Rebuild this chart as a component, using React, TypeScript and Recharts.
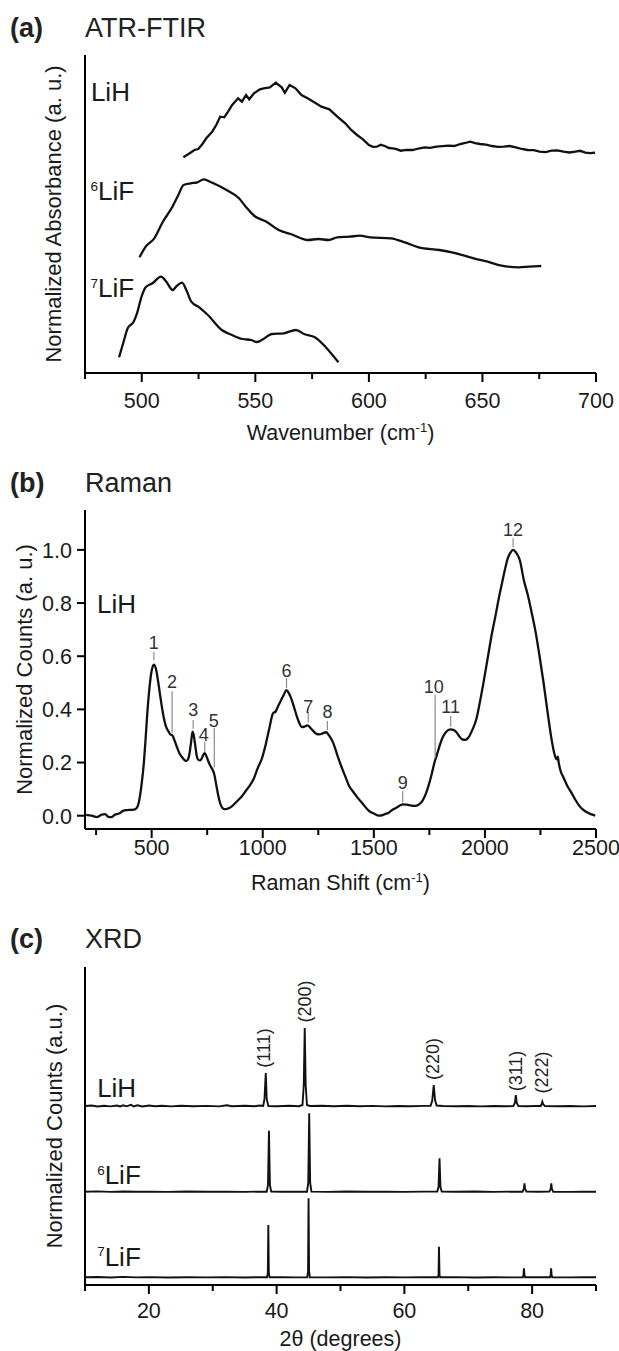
import React from 'react';
import { LineChart, Line, XAxis, YAxis, ReferenceLine, ReferenceDot, Label } from 'recharts';

const FONT = '"Liberation Sans", Arial, Helvetica, sans-serif';
const INK = '#1a1a1a';

// ---------- Panel (a) ATR-FTIR ----------
const ftirTicks = [475, 500, 525, 550, 575, 600, 625, 650, 675, 700];
const ftirLabeled = [500, 550, 600, 650, 700];
const ftirLiH: [number, number][] = [
  [518.3, 2.157], [520.6, 2.19], [523.2, 2.23], [524.9, 2.24], [526.7, 2.29], [528.4, 2.347], [531.0, 2.413],
  [532.8, 2.48], [534.5, 2.563], [536.3, 2.557], [538.0, 2.613], [539.8, 2.68], [542.4, 2.747], [544.1, 2.713],
  [545.9, 2.78], [547.3, 2.737], [549.4, 2.797], [552.0, 2.837], [553.7, 2.847], [556.4, 2.857], [559.0, 2.903],
  [561.6, 2.857], [563.0, 2.803], [565.1, 2.88], [567.7, 2.847], [570.3, 2.78], [573.0, 2.747], [575.6, 2.713],
  [579.1, 2.663], [582.6, 2.637], [586.1, 2.563], [589.6, 2.497], [592.2, 2.43], [594.8, 2.38], [597.4, 2.337],
  [600.0, 2.28], [601.8, 2.262], [603.5, 2.263], [605.2, 2.282], [607.0, 2.27], [608.8, 2.25], [610.5, 2.247],
  [612.2, 2.238], [614.0, 2.223], [616.5, 2.232], [619.3, 2.23], [621.8, 2.245], [624.5, 2.257], [627.0, 2.252],
  [629.7, 2.263], [632.4, 2.268], [635.0, 2.273], [637.6, 2.27], [640.2, 2.29], [642.4, 2.3], [644.6, 2.313],
  [646.8, 2.298], [648.9, 2.29], [651.6, 2.284], [654.2, 2.27], [656.8, 2.262], [659.4, 2.263], [662.0, 2.27],
  [664.7, 2.257], [667.3, 2.24], [669.9, 2.23], [672.6, 2.228], [675.2, 2.213], [677.8, 2.208], [680.4, 2.223],
  [683.0, 2.226], [685.7, 2.213], [688.3, 2.205], [690.9, 2.213], [693.0, 2.222], [695.3, 2.203], [697.5, 2.198],
  [699.6, 2.203],
];
const ftirLiF6: [number, number][] = [
  [499.0, 1.157], [501.7, 1.263], [505.5, 1.347], [509.3, 1.513], [513.1, 1.647], [516.1, 1.78], [518.4, 1.88],
  [521.5, 1.897], [524.5, 1.907], [527.3, 1.937], [530.6, 1.907], [536.7, 1.837], [542.8, 1.747], [545.8, 1.663],
  [549.6, 1.57], [554.9, 1.513], [560.3, 1.43], [565.6, 1.39], [573.2, 1.33], [577.7, 1.34], [582.3, 1.33],
  [586.1, 1.357], [591.4, 1.363], [596.0, 1.373], [600.6, 1.357], [609.7, 1.347], [615.8, 1.307], [621.9, 1.257],
  [631.0, 1.23], [637.1, 1.203], [646.2, 1.147], [652.3, 1.113], [658.4, 1.073], [666.0, 1.057], [670.5, 1.063],
  [675.9, 1.07],
];
const ftirLiF7: [number, number][] = [
  [490.0, 0.157], [491.8, 0.297], [493.8, 0.447], [496.4, 0.513], [497.9, 0.597], [499.9, 0.763], [501.7, 0.857],
  [504.7, 0.897], [508.5, 0.963], [510.8, 0.913], [513.6, 0.83], [515.4, 0.87], [517.7, 0.903], [519.6, 0.83],
  [521.8, 0.713], [525.3, 0.657], [529.1, 0.58], [535.2, 0.43], [539.7, 0.38], [544.3, 0.34], [548.1, 0.33],
  [550.7, 0.31], [553.4, 0.337], [557.2, 0.39], [562.5, 0.397], [567.9, 0.43], [571.7, 0.387], [576.2, 0.357],
  [580.8, 0.263], [584.6, 0.163], [586.6, 0.107],
];
const ftirSampleIso = ['', '6', '7'];
const ftirSampleName = ['LiH', 'LiF', 'LiF'];
const ftirSampleX = [477.6, 477.4, 477.4];
const ftirSampleY = [2.81, 1.82, 0.853];

// ---------- Panel (b) Raman ----------
const ramanTicksX = [250, 500, 750, 1000, 1250, 1500, 1750, 2000, 2250, 2500];
const ramanLabeledX = [500, 1000, 1500, 2000, 2500];
const ramanTicksY = [0, 0.2, 0.4, 0.6, 0.8, 1.0];
const ramanLiH: [number, number][] = [
  [205, 0.003], [230, 0.0], [255, -0.005], [275, 0.004], [291, 0.006], [305, -0.004], [318, -0.005], [335, 0.004],
  [353, 0.008], [371, 0.018], [390, 0.021], [407, 0.022], [425, 0.024], [434, 0.03], [442, 0.05], [455, 0.12],
  [465, 0.2], [472, 0.28], [480, 0.38], [490, 0.48], [500, 0.545], [510, 0.568], [520, 0.55], [530, 0.5],
  [541, 0.437], [552, 0.38], [564, 0.337], [575, 0.318], [585, 0.305], [592, 0.303], [600, 0.29], [612, 0.262],
  [625, 0.235], [639, 0.218], [650, 0.208], [657, 0.206], [665, 0.215], [671, 0.237], [678, 0.28], [684, 0.316],
  [690, 0.3], [696, 0.265], [703, 0.225], [710, 0.21], [718, 0.208], [725, 0.215], [732, 0.228], [739, 0.235],
  [746, 0.225], [755, 0.205], [764, 0.188], [773, 0.175], [782, 0.155], [791, 0.115], [800, 0.075], [809, 0.045],
  [818, 0.03], [826, 0.025], [835, 0.025], [844, 0.027], [858, 0.033], [871, 0.043], [889, 0.058], [907, 0.074],
  [925, 0.095], [943, 0.115], [960, 0.14], [978, 0.18], [996, 0.215], [1014, 0.27], [1030, 0.33], [1046, 0.385],
  [1059, 0.393], [1068, 0.41], [1077, 0.425], [1092, 0.45], [1107, 0.472], [1118, 0.46], [1130, 0.437],
  [1142, 0.405], [1153, 0.375], [1165, 0.348], [1175, 0.333], [1188, 0.335], [1202, 0.34], [1215, 0.33],
  [1228, 0.318], [1242, 0.308], [1255, 0.306], [1270, 0.31], [1285, 0.314], [1300, 0.3], [1318, 0.272],
  [1335, 0.23], [1353, 0.187], [1371, 0.149], [1389, 0.112], [1407, 0.09], [1425, 0.07], [1450, 0.045],
  [1478, 0.018], [1500, 0.008], [1523, 0.0], [1540, 0.002], [1550, 0.006], [1565, 0.01], [1577, 0.018],
  [1590, 0.025], [1603, 0.031], [1617, 0.038], [1630, 0.043], [1648, 0.042], [1666, 0.039], [1680, 0.037],
  [1693, 0.038], [1707, 0.045], [1720, 0.058], [1733, 0.08], [1746, 0.112], [1760, 0.155], [1773, 0.2],
  [1782, 0.224], [1795, 0.26], [1809, 0.293], [1825, 0.315], [1845, 0.325], [1858, 0.323], [1871, 0.315],
  [1885, 0.298], [1898, 0.287], [1912, 0.285], [1925, 0.293], [1943, 0.322], [1961, 0.362], [1978, 0.43],
  [1996, 0.512], [2014, 0.6], [2032, 0.687], [2050, 0.762], [2063, 0.82], [2077, 0.875], [2090, 0.925],
  [2103, 0.969], [2115, 0.99], [2127, 1.0], [2140, 0.99], [2157, 0.962], [2175, 0.887], [2193, 0.83],
  [2211, 0.762], [2229, 0.687], [2246, 0.6], [2264, 0.5], [2282, 0.39], [2300, 0.287], [2312, 0.235],
  [2320, 0.215], [2325, 0.212], [2328, 0.222], [2332, 0.2], [2340, 0.17], [2353, 0.145], [2371, 0.112],
  [2389, 0.087], [2407, 0.06], [2425, 0.037], [2443, 0.022], [2461, 0.012], [2480, 0.005], [2496, 0.0],
];
const ramanPeakNum = ['1', '2', '3', '4', '5', '6', '7', '8', '9', '10', '11', '12'];
const ramanPeakX = [510, 592, 687, 739, 782, 1107, 1205, 1291, 1630, 1776, 1846, 2127];
const ramanPeakLo = [0.585, 0.312, 0.327, 0.24, 0.181, 0.48, 0.35, 0.322, 0.05, 0.218, 0.335, 1.01];
const ramanPeakHi = [0.617, 0.468, 0.36, 0.277, 0.331, 0.518, 0.39, 0.356, 0.093, 0.456, 0.375, 1.044];
const ramanLabelX = [510, 592, 687, 734, 779, 1107, 1205, 1291, 1630, 1770, 1846, 2127];
const ramanLabelY = [0.65, 0.505, 0.4, 0.306, 0.356, 0.546, 0.412, 0.39, 0.125, 0.485, 0.41, 1.075];

// ---------- Panel (c) XRD ----------
const xrdTicks = [10, 20, 30, 40, 50, 60, 70, 80, 90];
const xrdLabeled = [20, 40, 60, 80];
const xrdLiH: [number, number][] = [
  [10, 1.79], [11, 1.795], [12, 1.785], [13, 1.792], [14, 1.786], [15, 1.795], [15.5, 1.785], [16, 1.797],
  [16.5, 1.787], [17.2, 1.802], [17.6, 1.786], [18.2, 1.797], [19, 1.785], [20, 1.795], [21, 1.787], [22, 1.793],
  [23.5, 1.786], [25, 1.792], [27, 1.787], [29, 1.791], [31, 1.786], [32.2, 1.797], [33, 1.787], [35, 1.792],
  [36.5, 1.787], [37.4, 1.795], [37.9, 1.79], [38.1, 1.86], [38.3, 2.12], [38.45, 1.86], [38.7, 1.79],
  [40, 1.788], [42, 1.792], [43.5, 1.788], [44.05, 1.8], [44.25, 2.0], [44.4, 2.57], [44.55, 2.0], [44.75, 1.8],
  [45.2, 1.79], [47, 1.792], [49, 1.787], [51, 1.792], [53, 1.787], [55, 1.791], [57, 1.786], [59, 1.79],
  [61, 1.787], [63, 1.791], [64.1, 1.792], [64.35, 1.84], [64.6, 2.0], [64.8, 1.85], [65.05, 1.795], [66, 1.79],
  [68, 1.787], [70, 1.79], [72, 1.786], [74, 1.79], [76, 1.787], [77.05, 1.79], [77.3, 1.82], [77.45, 1.9],
  [77.6, 1.82], [77.85, 1.79], [79, 1.788], [80.5, 1.79], [81.35, 1.79], [81.5, 1.81], [81.6, 1.833],
  [81.75, 1.805], [82.0, 1.79], [84, 1.787], [86, 1.79], [88, 1.786], [90, 1.79],
];
const xrdLiF6: [number, number][] = [
  [10, 0.933], [12, 0.936], [14, 0.931], [16, 0.935], [18, 0.932], [20, 0.934], [23, 0.931], [26, 0.935],
  [29, 0.932], [32, 0.934], [35, 0.931], [37, 0.934], [38.45, 0.933], [38.65, 1.0], [38.8, 1.543], [38.95, 1.0],
  [39.15, 0.934], [41, 0.932], [43, 0.934], [44.75, 0.933], [44.95, 1.02], [45.1, 1.717], [45.25, 1.02],
  [45.45, 0.934], [48, 0.931], [51, 0.935], [54, 0.932], [57, 0.934], [60, 0.931], [63, 0.934], [65.15, 0.934],
  [65.35, 0.98], [65.5, 1.267], [65.65, 0.98], [65.85, 0.934], [68, 0.932], [71, 0.935], [74, 0.931], [77, 0.934],
  [78.5, 0.933], [78.7, 0.96], [78.8, 1.017], [78.9, 0.96], [79.1, 0.934], [81, 0.932], [82.7, 0.934],
  [82.9, 0.96], [83.0, 1.017], [83.1, 0.96], [83.3, 0.933], [86, 0.931], [88, 0.934], [90, 0.933],
];
const xrdLiF7: [number, number][] = [
  [10, 0.077], [12, 0.08], [14, 0.075], [16, 0.081], [18, 0.076], [20, 0.079], [23, 0.075], [26, 0.078],
  [29, 0.076], [32, 0.079], [35, 0.075], [37, 0.078], [38.5, 0.077], [38.62, 0.12], [38.7, 0.6], [38.78, 0.12],
  [38.9, 0.077], [41, 0.079], [43, 0.076], [44.8, 0.077], [44.92, 0.14], [45.0, 0.867], [45.08, 0.14],
  [45.2, 0.078], [48, 0.076], [51, 0.079], [54, 0.075], [57, 0.078], [60, 0.076], [63, 0.079], [65.25, 0.077],
  [65.35, 0.1], [65.42, 0.383], [65.5, 0.1], [65.6, 0.077], [68, 0.079], [71, 0.075], [74, 0.078], [77, 0.076],
  [78.55, 0.077], [78.65, 0.1], [78.72, 0.167], [78.8, 0.1], [78.9, 0.077], [81, 0.079], [82.8, 0.077],
  [82.9, 0.1], [82.97, 0.167], [83.05, 0.1], [83.15, 0.077], [86, 0.076], [88, 0.079], [90, 0.077],
];
const xrdPeakText = ['(111)', '(200)', '(220)', '(311)', '(222)'];
const xrdPeakTextX = [38.0, 44.4, 64.5, 77.5, 81.5];
const xrdPeakTextY = [2.37, 2.835, 2.26, 2.14, 2.125];
const xrdSampleIso = ['', '6', '7'];
const xrdSampleName = ['LiH', 'LiF', 'LiF'];
const xrdSampleX = [11.9, 11.9, 11.9];
const xrdSampleY = [1.975, 1.1, 0.287];

// ---------- helpers ----------
const toRows = (pts: [number, number][]) => pts.map(([x, y]) => ({ x, y }));

const makeXTick = (labeled: number[], labelDy: number) => (props: any) => {
  const { x, y, payload } = props;
  const v = payload.value;
  const major = labeled.includes(v);
  return (
    <g>
      <line x1={x} x2={x} y1={y} y2={y + (major ? 9 : 6)} stroke="#000" strokeWidth={2} />
      {major && (
        <text x={x} y={y + labelDy} textAnchor="middle" fontSize={21.5} fontFamily={FONT} fill={INK}>
          {v}
        </text>
      )}
    </g>
  );
};

const makeYTick = () => (props: any) => {
  const { x, y, payload } = props;
  return (
    <g>
      <line x1={x - 8} x2={x} y1={y} y2={y} stroke="#000" strokeWidth={2} />
      <text x={x - 13} y={y + 7.8} textAnchor="end" fontSize={21.5} fontFamily={FONT} fill={INK}>
        {Number(payload.value).toFixed(1)}
      </text>
    </g>
  );
};

const xTitle = (main: string, sup: string, tail: string, dy: number) => (props: any) => {
  const vb = props.viewBox || {};
  return (
    <text x={vb.x + vb.width / 2} y={vb.y + dy} textAnchor="middle" fontSize={21.5} fontFamily={FONT} fill={INK}>
      <tspan>{main}</tspan>
      {sup ? (
        <tspan fontSize={13} dy={-8}>
          {sup}
        </tspan>
      ) : null}
      {tail ? <tspan dy={sup ? 8 : 0}>{tail}</tspan> : null}
    </text>
  );
};

const yTitle = (text: string, dx: number) => (props: any) => {
  const vb = props.viewBox || {};
  const cx = vb.x + dx;
  const cy = vb.y + vb.height / 2;
  return (
    <text
      x={cx}
      y={cy}
      transform={`rotate(-90 ${cx} ${cy})`}
      textAnchor="middle"
      dominantBaseline="central"
      fontSize={22}
      fontFamily={FONT}
      fill={INK}
    >
      {text}
    </text>
  );
};

const sampleShape = (iso: string, name: string) => (p: any) => (
  <text x={p.cx} y={p.cy + 9.3} fontSize={26} fontFamily={FONT} fill={INK} textAnchor="start">
    {iso ? (
      <tspan fontSize={13.5} dy={-9.3}>
        {iso}
      </tspan>
    ) : null}
    <tspan dy={iso ? 9.3 : 0}>{name}</tspan>
  </text>
);

const numberShape = (label: string) => (p: any) => (
  <text x={p.cx} y={p.cy + 6.4} textAnchor="middle" fontSize={18} fontFamily={FONT} fill="#333">
    {label}
  </text>
);

const rotatedShape = (label: string) => (p: any) => (
  <text
    x={p.cx}
    y={p.cy}
    transform={`rotate(-90 ${p.cx} ${p.cy})`}
    textAnchor="middle"
    dominantBaseline="central"
    fontSize={18}
    fontFamily={FONT}
    fill="#222"
  >
    {label}
  </text>
);

const axisStyle = { stroke: '#000', strokeWidth: 2 };

function FtirPanel() {
  const series = [ftirLiH, ftirLiF6, ftirLiF7];
  return (
    <LineChart width={619} height={450} margin={{ top: 55, right: 23, bottom: 7, left: 25 }}>
      <XAxis
        type="number"
        dataKey="x"
        domain={[475, 700]}
        ticks={ftirTicks}
        interval={0}
        tickLine={false}
        tickSize={0}
        tickMargin={0}
        axisLine={axisStyle}
        tick={makeXTick(ftirLabeled, 34.5)}
        height={70}
        allowDataOverflow
      >
        <Label content={xTitle('Wavenumber (cm', '-1', ')', 66.5)} />
      </XAxis>
      <YAxis type="number" domain={[0, 3.18]} tick={false} tickLine={false} axisLine={axisStyle} width={60} allowDataOverflow>
        <Label content={yTitle('Normalized Absorbance (a. u.)', 28)} />
      </YAxis>
      {series.map((s, i) => (
        <Line
          key={'ftir' + i}
          data={toRows(s)}
          dataKey="y"
          type={i === 0 ? 'linear' : 'monotone'}
          stroke="#111"
          strokeWidth={2.3}
          dot={false}
          isAnimationActive={false}
        />
      ))}
      {ftirSampleName.map((n, i) => (
        <ReferenceDot key={'fs' + i} x={ftirSampleX[i]} y={ftirSampleY[i]} r={0} shape={sampleShape(ftirSampleIso[i], n)} />
      ))}
    </LineChart>
  );
}

function RamanPanel() {
  return (
    <LineChart width={619} height={450} margin={{ top: 60, right: 23, bottom: 1, left: 25 }}>
      <XAxis
        type="number"
        dataKey="x"
        domain={[200, 2500]}
        ticks={ramanTicksX}
        interval={0}
        tickLine={false}
        tickSize={0}
        tickMargin={0}
        axisLine={axisStyle}
        tick={makeXTick(ramanLabeledX, 25.5)}
        height={70}
        allowDataOverflow
      >
        <Label content={xTitle('Raman Shift (cm', '-1', ')', 60.5)} />
      </XAxis>
      <YAxis
        type="number"
        domain={[-0.05, 1.15]}
        ticks={ramanTicksY}
        interval={0}
        tickLine={false}
        tickSize={0}
        tickMargin={0}
        axisLine={axisStyle}
        tick={makeYTick()}
        width={60}
        allowDataOverflow
      >
        <Label content={yTitle('Normalized Counts (a. u.)', -1)} />
      </YAxis>
      <Line
        data={toRows(ramanLiH)}
        dataKey="y"
        type="monotone"
        stroke="#111"
        strokeWidth={2.3}
        dot={false}
        isAnimationActive={false}
      />
      {ramanPeakX.map((px, i) => (
        <ReferenceLine
          key={'pl' + i}
          segment={[
            { x: px, y: ramanPeakLo[i] },
            { x: px, y: ramanPeakHi[i] },
          ]}
          stroke="#8c8c8c"
          strokeWidth={1.2}
        />
      ))}
      {ramanPeakNum.map((n, i) => (
        <ReferenceDot key={'pn' + i} x={ramanLabelX[i]} y={ramanLabelY[i]} r={0} shape={numberShape(n)} />
      ))}
      <ReferenceDot x={254} y={0.796} r={0} shape={sampleShape('', 'LiH')} />
    </LineChart>
  );
}

function XrdPanel() {
  const series = [xrdLiH, xrdLiF6, xrdLiF7];
  return (
    <LineChart width={619} height={451} margin={{ top: 67, right: 23, bottom: 1, left: 25 }}>
      <XAxis
        type="number"
        dataKey="x"
        domain={[10, 90]}
        ticks={xrdTicks}
        interval={0}
        tickLine={false}
        tickSize={0}
        tickMargin={0}
        axisLine={axisStyle}
        tick={makeXTick(xrdLabeled, 32.5)}
        height={65}
        allowDataOverflow
      >
        <Label content={xTitle('2θ (degrees)', '', '', 60.5)} />
      </XAxis>
      <YAxis type="number" domain={[0, 3.18]} tick={false} tickLine={false} axisLine={axisStyle} width={60} allowDataOverflow>
        <Label content={yTitle('Normalized Counts (a.u.)', 29)} />
      </YAxis>
      {series.map((s, i) => (
        <Line
          key={'xrd' + i}
          data={toRows(s)}
          dataKey="y"
          type="linear"
          stroke="#111"
          strokeWidth={1.9}
          dot={false}
          isAnimationActive={false}
        />
      ))}
      {xrdPeakText.map((t, i) => (
        <ReferenceDot key={'xp' + i} x={xrdPeakTextX[i]} y={xrdPeakTextY[i]} r={0} shape={rotatedShape(t)} />
      ))}
      {xrdSampleName.map((n, i) => (
        <ReferenceDot key={'xs' + i} x={xrdSampleX[i]} y={xrdSampleY[i]} r={0} shape={sampleShape(xrdSampleIso[i], n)} />
      ))}
    </LineChart>
  );
}

const panelTitles = [
  { tag: '(a)', name: 'ATR-FTIR', baseline: 37 },
  { tag: '(b)', name: 'Raman', baseline: 492 },
  { tag: '(c)', name: 'XRD', baseline: 948 },
];

export default function App() {
  return (
    <div style={{ position: 'absolute', left: 0, top: 0, width: 619, height: 1351, background: '#fff', overflow: 'hidden' }}>
      <div style={{ position: 'absolute', left: 0, top: 0 }}>
        <FtirPanel />
      </div>
      <div style={{ position: 'absolute', left: 0, top: 450 }}>
        <RamanPanel />
      </div>
      <div style={{ position: 'absolute', left: 0, top: 900 }}>
        <XrdPanel />
      </div>
      <svg width={619} height={1351} style={{ position: 'absolute', left: 0, top: 0, pointerEvents: 'none' }}>
        {panelTitles.map((t) => (
          <g key={t.tag}>
            <text x={10} y={t.baseline} fontSize={27} fontWeight="bold" fontFamily={FONT} fill="#222">
              {t.tag}
            </text>
            <text x={85} y={t.baseline} fontSize={27} fontFamily={FONT} fill="#222">
              {t.name}
            </text>
          </g>
        ))}
      </svg>
    </div>
  );
}
